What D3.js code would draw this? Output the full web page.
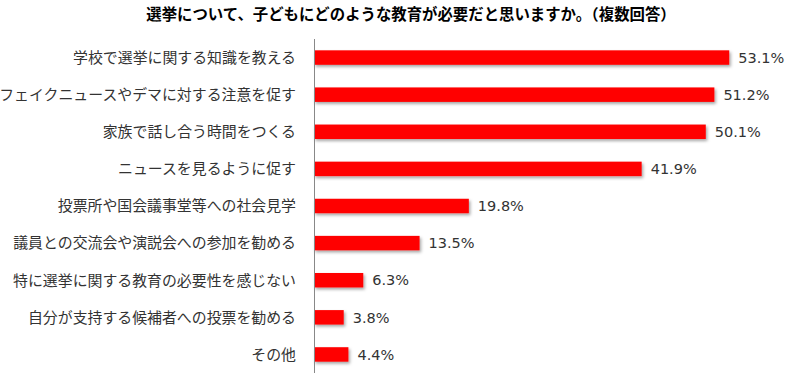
<!DOCTYPE html>
<html>
<head>
<meta charset="utf-8">
<script src="https://cdn.jsdelivr.net/npm/d3@7"></script>
<style>
  body { margin: 0; background: #fff; }
  svg { display: block; }
</style>
</head>
<body>
<div id="body"></div>
<script>
var title = "選挙について、子どもにどのような教育が必要だと思いますか。（複数回答）";
var categories = [
  "学校で選挙に関する知識を教える",
  "フェイクニュースやデマに対する注意を促す",
  "家族で話し合う時間をつくる",
  "ニュースを見るように促す",
  "投票所や国会議事堂等への社会見学",
  "議員との交流会や演説会への参加を勧める",
  "特に選挙に関する教育の必要性を感じない",
  "自分が支持する候補者への投票を勧める",
  "その他"
];
var values = [53.1, 51.2, 50.1, 41.9, 19.8, 13.5, 6.3, 3.8, 4.4];

var width = 795, height = 379;
var plotLeft = 314, plotTop = 39, plotBottom = 373;

var svg = d3.select("#body").append("svg")
  .attr("width", width)
  .attr("height", height);

// soft shadow under the bars
var defs = svg.append("defs");
defs.append("filter")
  .attr("id", "shadow")
  .attr("x", "-10%").attr("y", "-40%")
  .attr("width", "130%").attr("height", "200%")
  .append("feDropShadow")
  .attr("dx", 1.5).attr("dy", 2)
  .attr("stdDeviation", 1.5)
  .attr("flood-color", "#000")
  .attr("flood-opacity", 0.35);

var x = d3.scaleLinear().domain([0, 1]).range([plotLeft, plotLeft + 7.82]);

var y = d3.scaleBand()
  .domain(categories)
  .range([plotTop, plotBottom])
  .paddingInner(0.61)
  .paddingOuter(0.305);

//title
svg.append("text")
  .attr("x", 411)
  .attr("y", 20)
  .attr("text-anchor", "middle")
  .attr("font-family", "'Noto Sans CJK JP', sans-serif")
  .attr("font-weight", "bold")
  .attr("font-size", 15.4)
  .attr("fill", "#000")
  .text(title);

var rows = categories.map(function(c, i) { return {name: c, value: values[i]}; });

//bars
svg.selectAll("rect.bar").data(rows)
  .enter().append("rect")
  .attr("class", "bar")
  .attr("x", x(0))
  .attr("y", function(d) { return y(d.name); })
  .attr("width", function(d) { return x(d.value) - x(0); })
  .attr("height", y.bandwidth())
  .attr("fill", "#ff0000")
  .attr("filter", "url(#shadow)");

//category labels
svg.append("g")
  .attr("transform", "translate(" + (plotLeft - 18) + ",0)")
  .selectAll("text").data(rows)
  .enter().append("text")
  .attr("text-anchor", "end")
  .attr("y", function(d) { return y(d.name) + y.bandwidth() / 2; })
  .attr("dy", "0.36em")
  .attr("font-family", "'Noto Sans CJK JP', sans-serif")
  .attr("font-size", 14.9)
  .attr("fill", "#333")
  .text(function(d) { return d.name; });

//value labels
svg.selectAll("text.val").data(rows)
  .enter().append("text")
  .attr("class", "val")
  .attr("x", function(d) { return x(d.value) + 9; })
  .attr("y", function(d) { return y(d.name) + y.bandwidth() / 2; })
  .attr("dy", "0.36em")
  .attr("font-family", "'DejaVu Sans', Verdana, sans-serif")
  .attr("font-size", 14.5)
  .attr("fill", "#333")
  .text(function(d) { return d.value.toFixed(1) + "%"; });

//axis line
svg.append("line")
  .attr("x1", x(0) + 0.5).attr("x2", x(0) + 0.5)
  .attr("y1", plotTop).attr("y2", plotBottom)
  .attr("stroke", "#888")
  .attr("stroke-width", 1);
</script>
</body>
</html>
